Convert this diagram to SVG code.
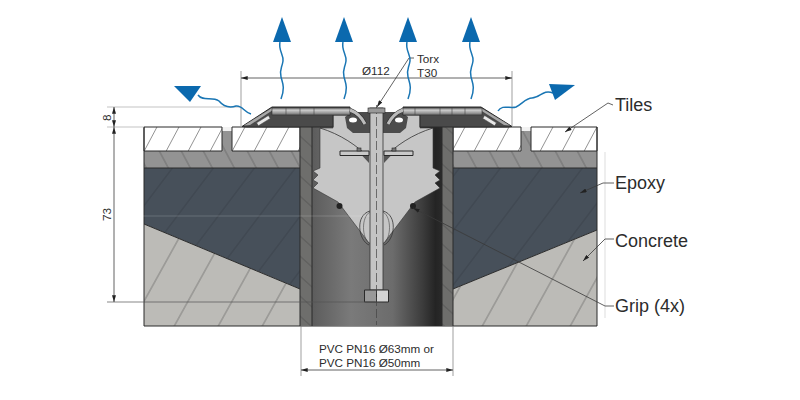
<svg xmlns="http://www.w3.org/2000/svg" width="800" height="400" viewBox="0 0 800 400">
<style>
text{font-family:"Liberation Sans",Arial,sans-serif;fill:#2c2c2c}
.dim{font-size:11.7px}
.lab{font-size:18px}
.d{fill:none;stroke:#3a3a3a;stroke-width:.8}
.ext{fill:none;stroke:#777;stroke-width:.7}
.faint{fill:none;stroke:#ddd;stroke-width:1}
.o{stroke:#2a2a2a;stroke-width:1;stroke-linejoin:round}
.wave{fill:none;stroke:#1a76b4;stroke-width:1.5}
.arr{fill:#0b69ae}
</style>
<defs>
<marker id="a" viewBox="0 0 10 6" refX="10" refY="3" markerWidth="7" markerHeight="4" markerUnits="userSpaceOnUse" orient="auto-start-reverse"><path d="M0 0L10 3L0 6z" fill="#222"/></marker>
<pattern id="pT" width="22" height="40" patternUnits="userSpaceOnUse" patternTransform="skewX(-28)"><path d="M4.500 0V40" stroke="#555" stroke-width=".6"/></pattern>
<pattern id="pS" width="22" height="40" patternUnits="userSpaceOnUse" patternTransform="skewX(28)"><path d="M13 0V40" stroke="#555" stroke-width=".6"/></pattern>
<pattern id="pE" width="41" height="40" patternUnits="userSpaceOnUse" patternTransform="skewX(-37)"><path d="M12 0V40" stroke="#353b43" stroke-width=".6"/></pattern>
<pattern id="pC" width="44" height="40" patternUnits="userSpaceOnUse" patternTransform="skewX(-29)"><path d="M3 0V40" stroke="#555" stroke-width=".6"/></pattern>
<pattern id="pW" width="40" height="20" patternUnits="userSpaceOnUse" patternTransform="skewY(42)"><path d="M0 6H40" stroke="#4a4a4a" stroke-width=".6"/></pattern>
<linearGradient id="pipe" x1="0" x2="1" y1="0" y2="0"><stop offset="0" stop-color="#5c5c5c"/><stop offset=".3" stop-color="#7a7a7a"/><stop offset=".62" stop-color="#6c6c6c"/><stop offset=".85" stop-color="#3c3c3c"/><stop offset=".95" stop-color="#242424"/><stop offset="1" stop-color="#2a2a2a"/></linearGradient>
<linearGradient id="plate" x1="0" x2="0" y1="0" y2="1"><stop offset="0" stop-color="#8c8c8c"/><stop offset=".35" stop-color="#c8c8c8"/><stop offset=".7" stop-color="#9a9a9a"/><stop offset="1" stop-color="#6a6a6a"/></linearGradient>
</defs>

<g id="slab">
<path d="M144 151H222V131H232V151H300V168H144z" fill="#939393"/>
<path d="M144 151H222V131H232V151H300V168H144z" fill="url(#pS)"/>
<path d="M453 151H521V131H531V151H597V168H453z" fill="#939393"/>
<path d="M453 151H521V131H531V151H597V168H453z" fill="url(#pS)"/>
<rect x="222" y="127" width="10" height="4" fill="#f2f2f2"/>
<rect x="521" y="127" width="10" height="4" fill="#f2f2f2"/>
<path d="M144 127H222V151H144zM232 127H300V151H232zM453 127H521V151H453zM531 127H597V151H531z" fill="#fff"/>
<path d="M144 127H222V151H144zM232 127H300V151H232zM453 127H521V151H453zM531 127H597V151H531z" fill="url(#pT)" class="o"/>
<path d="M144 168H300V289L144 224z" fill="#47505a"/>
<path d="M144 168H300V289L144 224z" fill="url(#pE)"/>
<path d="M453 168H597V230L453 289z" fill="#47505a"/>
<path d="M453 168H597V230L453 289z" fill="url(#pE)"/>
<path d="M144 224L300 289V326H144z" fill="#bcbbb7"/>
<path d="M144 224L300 289V326H144z" fill="url(#pC)"/>
<path d="M453 289L597 230V326H453z" fill="#bcbbb7"/>
<path d="M453 289L597 230V326H453z" fill="url(#pC)"/>
<path d="M144 168H300M453 168H597M144 224L300 289M453 289L597 230" class="o" fill="none"/>
<path d="M144 127V326H597V127" class="o" fill="none"/>
</g>

<g id="pipe-section">
<rect x="312" y="127" width="130" height="199" fill="url(#pipe)"/>
<rect x="300" y="127" width="12" height="199" fill="#6e6e6c"/>
<rect x="300" y="127" width="12" height="199" fill="url(#pW)"/>
<rect x="442" y="127" width="11" height="199" fill="#6e6e6c"/>
<rect x="442" y="127" width="11" height="199" fill="url(#pW)"/>
<path d="M300 127V326M312 127V326M442 127V326M453 127V326" class="o" fill="none"/>
</g>

<g id="grip">
<path d="M333 114H420V128H433V168L440 171L435 175L440 180L435 183L440 188L415 202L384 243H369L338 202L313 188L318 183L313 180L318 175L313 171L320 168V128H333z" fill="#c6c6c6" stroke="#333" stroke-width=".6"/>
<path d="M345 117L352 112H370V133H353L347 128zM408 117L401 112H383V133H400L406 128z" fill="#4c4c4c"/>
<path d="M320 128C340 134 358 146 369 158M433 128C413 134 395 146 384 158" fill="none" stroke="#333" stroke-width=".8"/>
<path d="M362 155.500H369V163zM391 155.500H384V163z" fill="#555"/>
<rect x="340" y="151" width="29" height="4.500" fill="#c9c9c9" class="o" stroke-width=".7"/>
<rect x="384" y="151" width="29" height="4.500" fill="#c9c9c9" class="o" stroke-width=".7"/>
<rect x="357" y="148" width="4" height="3" fill="#777" stroke="#222" stroke-width=".6"/>
<rect x="392" y="148" width="4" height="3" fill="#777" stroke="#222" stroke-width=".6"/>
<circle cx="339.500" cy="206" r="3" fill="#222"/>
<circle cx="413" cy="206" r="3" fill="#222"/>
<path d="M370 211C355 215 358 240 369 245M383 211C398 215 395 240 384 245" fill="none" stroke="#333" stroke-width=".8"/>
<path d="M370 212C361 217 362 238 369 243M383 212C392 217 391 238 384 243" fill="none" stroke="#444" stroke-width=".6"/>
</g>

<g id="bolt">
<rect x="370" y="108" width="13" height="182" fill="#c4c4c4" stroke="#333" stroke-width=".8"/>
<rect x="364.500" y="290" width="12" height="12" fill="#999" class="o" stroke-width="1.200"/>
<rect x="376.500" y="290" width="12" height="12" fill="#d4d4d4" class="o" stroke-width="1.200"/>
<path d="M376.500 105V325" stroke="#444" stroke-width=".7" stroke-dasharray="9 3" fill="none"/>
</g>

<g id="cover">
<path d="M242 126.500L272 107H350V115H333V127H247zM512 126.500L481 107H403V115H420V127H507z" fill="#4a4a4a" class="o" stroke-width=".8"/>
<path d="M244 125.500L272 108H276L250 125z" fill="#a8a8a8"/>
<path d="M510 125.500L481 108H477L504 125z" fill="#a8a8a8"/>
<rect x="272" y="108" width="78" height="7" fill="url(#plate)" stroke="#333" stroke-width=".6"/>
<rect x="403" y="108" width="79" height="7" fill="url(#plate)" stroke="#333" stroke-width=".6"/>
<path d="M286 108V115M300 108V115M314 108V115M415 108V115M440 108V115M452 108V115M465 108V115" stroke="#444" stroke-width=".6"/>
<rect x="256" y="119" width="14" height="3.500" transform="rotate(-32 263 120)" fill="#e8e8e8" stroke="#444" stroke-width=".5"/>
<rect x="483" y="119" width="14" height="3.500" transform="rotate(32 490 120)" fill="#e8e8e8" stroke="#444" stroke-width=".5"/>
<path d="M350 110C358 113 362 118 365 124M403 110C395 113 391 118 388 124" fill="none" stroke="#333" stroke-width="4.500"/>
<path d="M350 110C358 113 362 118 365 124M403 110C395 113 391 118 388 124" fill="none" stroke="#bbb" stroke-width="3"/>
<ellipse cx="353" cy="120" rx="4" ry="2.500" fill="#fff"/>
<ellipse cx="399" cy="120" rx="4" ry="2.500" fill="#fff"/>
<rect x="368" y="108" width="17" height="5" fill="#999" stroke="#222" stroke-width=".6"/>
</g>

<g id="connectors">
<path d="M107 107H240M107 127H144" class="ext" style="stroke:#aaa"/>
<path d="M137 216H370" fill="none" stroke="#fff" stroke-opacity=".25" stroke-width=".7"/>
<path d="M107 302H375" class="ext" style="stroke:#555"/>
<path d="M605 152V318" class="faint"/>
<path d="M114 107V127" class="d" marker-start="url(#a)" marker-end="url(#a)"/>
<path d="M114 127V302" class="d" marker-start="url(#a)" marker-end="url(#a)"/>
<path d="M241 71V126M512 71V126M301 326V376M453 326V376" class="ext"/>
<path d="M241 78H512" class="d" marker-start="url(#a)" marker-end="url(#a)"/>
<path d="M301 370H453" class="d" marker-start="url(#a)" marker-end="url(#a)"/>
<path d="M414 58H409L377 107" class="d" marker-end="url(#a)"/>
<path d="M613 105L608 103L565 132" class="d" marker-end="url(#a)"/>
<path d="M614 183H603L580 193" class="d" marker-end="url(#a)"/>
<path d="M614 239H605L583 261" class="d" marker-end="url(#a)"/>
<path d="M614 306H605L413 208" class="d" marker-end="url(#a)"/>
</g>

<g id="heat">
<path class="wave" d="M280 42C278 50 284 55 283 61C282 68 279 70 281 77C283 84 285 88 281 99"/>
<path class="wave" d="M343 42C341 50 347 55 346 61C345 68 342 70 344 77C346 84 348 88 344 99"/>
<path class="wave" d="M407 42C405 50 411 55 410 61C409 68 406 70 408 77C410 84 412 88 408 99"/>
<path class="wave" d="M470 42C468 50 474 55 473 61C472 68 469 70 471 77C473 84 475 88 471 99"/>
<path class="wave" d="M198 95C203 102 212 96 219 101C224 107 230 108 236 106C242 105 244 112 251 114"/>
<path class="wave" d="M498 111C502 104 510 109 516 107C522 104 526 98 532 98C540 98 543 89 553 93"/>
<path class="arr" d="M282 17L273 42H291z"/>
<path class="arr" d="M344 17L335 42H353z"/>
<path class="arr" d="M408 17L399 42H417z"/>
<path class="arr" d="M471 17L462 42H480z"/>
<path class="arr" d="M174 86L201 86L190 102z"/>
<path class="arr" d="M549 84L575 85L555 100z"/>
</g>

<g id="labels">
<text class="dim" x="362" y="75">Ø112</text>
<text class="dim" x="417" y="63">Torx</text>
<text class="dim" x="417" y="77">T30</text>
<text class="dim" transform="translate(111 121) rotate(-90)">8</text>
<text class="dim" transform="translate(111 221) rotate(-90)">73</text>
<text class="dim" x="319" y="353">PVC PN16 Ø63mm or</text>
<text class="dim" x="319" y="367">PVC PN16 Ø50mm</text>
<text class="lab" x="615" y="111">Tiles</text>
<text class="lab" x="615" y="189">Epoxy</text>
<text class="lab" x="615" y="247">Concrete</text>
<text class="lab" x="615" y="312">Grip (4x)</text>
</g>
</svg>
